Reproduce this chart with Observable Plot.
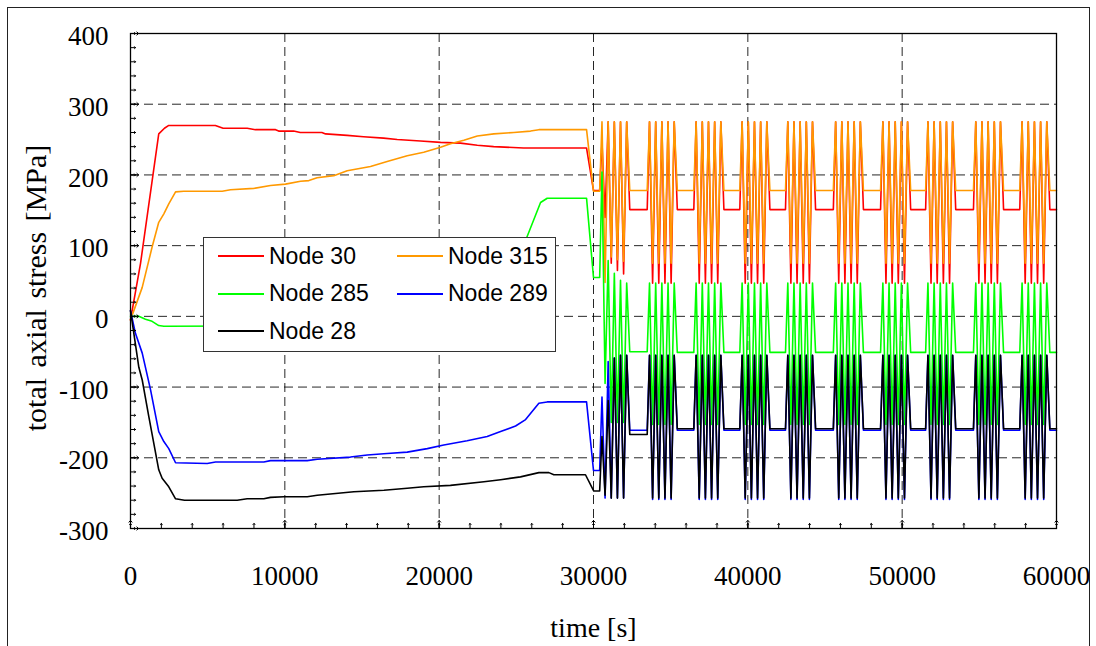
<!DOCTYPE html>
<html><head><meta charset="utf-8">
<script src="https://cdn.jsdelivr.net/npm/d3@7"></script>
<script src="https://cdn.jsdelivr.net/npm/@observablehq/plot@0.6"></script>
<style>
body{margin:0;background:#fff;}
#wrap{position:relative;width:1096px;height:646px;overflow:hidden;background:#fff;}
#outer{position:absolute;left:7px;top:7px;width:1083px;height:680px;border:1px solid #222;box-sizing:border-box;pointer-events:none;}
#legend{position:absolute;left:203px;top:237px;width:353px;height:115px;box-sizing:border-box;border:1px solid #333;background:#fff;font-family:"Liberation Sans",Arial,sans-serif;font-size:23px;color:#000;}
.item{position:absolute;height:30px;display:flex;align-items:center;white-space:nowrap;}
.item svg{margin-right:5px;}
#ytitle{position:absolute;left:36px;top:288px;transform:translate(-50%,-50%) rotate(-90deg);font-family:"Liberation Serif","Times New Roman",serif;font-size:30px;line-height:1;white-space:nowrap;word-spacing:3px;color:#000;}
</style></head><body>
<div id="wrap"><div id="chart"></div><div id="legend"></div><div id="ytitle"></div><div id="outer"></div></div>
<script>
// ---- data ----
const seriesNames = ["Node 30", "Node 315", "Node 285", "Node 289", "Node 28"];
const seriesColors = ["#ff0000", "#ff9900", "#00ff00", "#0000ff", "#000000"];

// monotonic loading phase, [time s, stress MPa]
const node30Pre = [[0,-5],[650,75],[1830,258],[2200,266],[2480,270],[5500,270],[6000,266],[7560,266],[8100,264],[9400,264],[9600,262],[10570,262],[11000,260],[12400,260],[12640,258],[14040,256],[15100,254],[16400,252],[17280,250],[18790,248],[20090,246],[21380,245],[22470,242],[23530,240],[25470,238],[29550,238],[30000,178]];
const node315Pre = [[0,-5],[760,41],[1400,98],[1830,133],[2160,145],[2480,159],[2920,176],[3450,177],[5940,177],[6480,179],[7990,181],[9070,185],[10040,187],[11020,191],[11560,192],[12090,196],[13170,199],[14040,206],[15550,212],[16630,219],[17930,227],[19000,232],[20090,239],[20730,244],[21600,249],[22470,255],[23540,258],[24840,260],[25920,262],[26460,264],[29550,264],[30000,177]];
const node285Pre = [[0,0],[540,0],[970,-4],[1400,-7],[1830,-13],[2160,-14],[23000,-13],[24300,40],[25720,114],[26570,161],[27000,167],[29550,167],[30000,55]];
const node289Pre = [[0,8],[320,-24],[760,-52],[1300,-104],[1830,-163],[2160,-177],[2480,-187],[2920,-207],[4970,-208],[5510,-206],[8640,-206],[9070,-204],[11450,-204],[12100,-202],[14250,-199],[15340,-196],[16630,-194],[17930,-192],[19230,-187],[20300,-182],[21810,-176],[23110,-170],[23980,-163],[24950,-155],[25600,-146],[26460,-123],[27000,-121],[29550,-121],[30000,-218]];
const node28Pre = [[0,8],[540,-72],[760,-90],[1190,-142],[1830,-217],[2050,-229],[2480,-241],[2920,-258],[3500,-260],[6910,-260],[7560,-258],[8640,-258],[9070,-256],[9930,-255],[11450,-255],[12100,-253],[14470,-248],[16420,-246],[17930,-243],[19000,-241],[20730,-239],[22900,-234],[23980,-231],[25270,-227],[26460,-221],[27110,-221],[27430,-224],[29480,-224],[30020,-247]];

// cyclic phase: start time of each load block, and times within a block
const blockStarts = [30400, 33480, 36500, 39480, 42440, 45540, 48600, 51520, 54620, 57620];
const cycleOffsets = [150, 350, 550, 750, 950, 1150, 1350, 1550, 1750, 1950];
// stress values at those times (first block, then every later block)
const node30First = [246, 140, 275, 75, 275, 65, 275, 60, 275, 151];
const node30Cycle = [275, 47, 275, 47, 275, 47, 275, 47, 275, 151];
const node315First = [275, 48, 275, 84, 275, 80, 275, 78, 275, 178];
const node315Cycle = [275, 75, 275, 75, 275, 75, 275, 75, 275, 178];
const node285First = [204, -95, 79, -150, 61, -150, 51, -150, 47, -50];
const node285Cycle = [47, -153, 47, -153, 47, -153, 47, -153, 47, -51];
const node289First = [-114, -257, -64, -257, -59, -257, -55, -257, -55, -161];
const node289Cycle = [-55, -259, -55, -259, -55, -259, -55, -259, -55, -161];
const node28First = [-170, -253, -119, -257, -59, -257, -55, -257, -55, -167];
const node28Cycle = [-55, -257, -55, -257, -55, -257, -55, -257, -55, -159];

const xMajor = [0, 10000, 20000, 30000, 40000, 50000, 60000];
const xMinor = d3.range(0, 60001, 2000);
const yMajor = [-300, -200, -100, 0, 100, 200, 300, 400];
const yMinor = d3.range(-300, 401, 20);
const xGrid = [10000, 20000, 30000, 40000, 50000];
const yGrid = [-200, -100, 0, 100, 200, 300];
const xTitle = "time [s]";
const yTitle = "total axial stress [MPa]";

function build(pre, first, cycle) {
  const pts = pre.map(([t, v]) => ({t, v}));
  let prev = pre[pre.length - 1][1];
  blockStarts.forEach((b, k) => {
    const vals = k === 0 ? first : cycle;
    pts.push({t: b, v: prev});
    cycleOffsets.forEach((o, i) => pts.push({t: b + o, v: vals[i]}));
    prev = vals[vals.length - 1];
  });
  pts.push({t: 60000, v: prev});
  return pts;
}
const allSeries = [
  build(node30Pre, node30First, node30Cycle),
  build(node315Pre, node315First, node315Cycle),
  build(node285Pre, node285First, node285Cycle),
  build(node289Pre, node289First, node289Cycle),
  build(node28Pre, node28First, node28Cycle)
];

const serif = '"Liberation Serif", "Times New Roman", serif';
const plot = Plot.plot({
  width: 1096, height: 646,
  marginLeft: 130, marginRight: 40, marginTop: 33, marginBottom: 118,
  x: {domain: [0, 60000]},
  y: {domain: [-300, 400]},
  style: {fontFamily: serif, fontSize: "27px", color: "#000", background: "transparent", overflow: "visible"},
  marks: [
    Plot.gridX(xGrid, {stroke: "#000", strokeOpacity: 0.85, strokeDasharray: "9,5"}),
    Plot.gridY(yGrid, {stroke: "#000", strokeOpacity: 0.85, strokeDasharray: "9,5"}),
    ...allSeries.map((d, i) => Plot.line(d, {x: "t", y: "v", stroke: seriesColors[i], strokeWidth: 1.6})),
    // inward tick marks
    Plot.vector(xMinor, {x: d => d, frameAnchor: "bottom", length: 5, rotate: 0, anchor: "start", stroke: "#000", strokeWidth: 1}),
    Plot.vector(xMajor, {x: d => d, frameAnchor: "bottom", length: 8, rotate: 0, anchor: "start", stroke: "#000", strokeWidth: 1}),
    Plot.vector(yMinor, {y: d => d, frameAnchor: "left", length: 5, rotate: 90, anchor: "start", stroke: "#000", strokeWidth: 1}),
    Plot.vector(yMajor, {y: d => d, frameAnchor: "left", length: 8, rotate: 90, anchor: "start", stroke: "#000", strokeWidth: 1}),
    Plot.axisX(xMajor, {tickSize: 0, tickPadding: 37, tickFormat: d => String(d), label: null}),
    Plot.axisY(yMajor, {tickSize: 0, tickPadding: 22, tickFormat: d => String(d), label: null, dy: 3}),
    Plot.frame({stroke: "#000", strokeWidth: 1.3}),
    Plot.text([xTitle], {text: d => d, frameAnchor: "bottom", dy: 100, lineAnchor: "middle", fontSize: 28})
  ]
});
document.getElementById("chart").appendChild(plot);
document.getElementById("ytitle").textContent = yTitle;

// legend
const legend = document.getElementById("legend");
const legendPos = [[0, 0], [1, 0], [0, 1], [1, 1], [0, 2]];
seriesNames.forEach((name, i) => {
  const [c, r] = legendPos[i];
  const div = document.createElement("div");
  div.className = "item";
  div.style.left = (c === 0 ? 14 : 193) + "px";
  div.style.top = (3 + r * 37.5) + "px";
  div.innerHTML = `<svg width="46" height="4"><line x1="0" y1="2" x2="46" y2="2" stroke="${seriesColors[i]}" stroke-width="2"/></svg><span>${name}</span>`;
  legend.appendChild(div);
});
</script>
</body></html>
